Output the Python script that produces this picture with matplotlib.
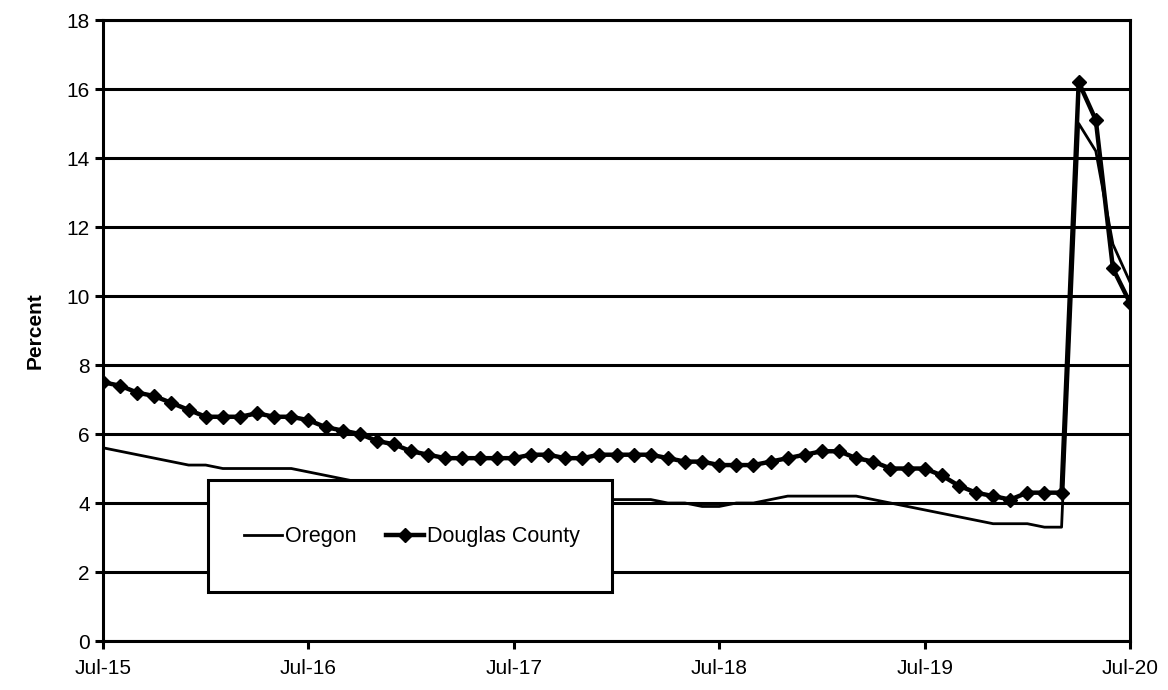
import numpy as np
import matplotlib.pyplot as plt
from matplotlib.patches import Rectangle

plt.rcParams['font.family'] = ['Liberation Sans', 'DejaVu Sans']

# monthly unemployment rate, Jul-15 .. Jul-20
oregon = [5.6, 5.5, 5.4, 5.3, 5.2, 5.1, 5.1, 5.0, 5.0, 5.0, 5.0, 5.0,
          4.9, 4.8, 4.7, 4.6, 4.5, 4.4, 4.3, 4.2, 4.2, 4.1, 4.1, 4.1,
          4.1, 4.1, 4.1, 4.1, 4.1, 4.1, 4.1, 4.1, 4.1, 4.0, 4.0, 3.9,
          3.9, 4.0, 4.0, 4.1, 4.2, 4.2, 4.2, 4.2, 4.2, 4.1, 4.0, 3.9,
          3.8, 3.7, 3.6, 3.5, 3.4, 3.4, 3.4, 3.3, 3.3, 15.0, 14.2, 11.5,
          10.4]
douglas = [7.5, 7.4, 7.2, 7.1, 6.9, 6.7, 6.5, 6.5, 6.5, 6.6, 6.5, 6.5,
           6.4, 6.2, 6.1, 6.0, 5.8, 5.7, 5.5, 5.4, 5.3, 5.3, 5.3, 5.3,
           5.3, 5.4, 5.4, 5.3, 5.3, 5.4, 5.4, 5.4, 5.4, 5.3, 5.2, 5.2,
           5.1, 5.1, 5.1, 5.2, 5.3, 5.4, 5.5, 5.5, 5.3, 5.2, 5.0, 5.0,
           5.0, 4.8, 4.5, 4.3, 4.2, 4.1, 4.3, 4.3, 4.3, 16.2, 15.1, 10.8,
           9.8]
tick_labels = ['Jul-15', 'Jul-16', 'Jul-17', 'Jul-18', 'Jul-19', 'Jul-20']

months = np.arange(len(douglas))

fig = plt.figure(figsize=(11.68, 6.9), dpi=100)
ax = fig.add_axes([0.0882, 0.071, 0.8793, 0.9])

ax.plot(months, oregon, color='black', lw=2.0, label='Oregon', zorder=3)
ax.plot(months, douglas, color='black', lw=3.2, marker='D', ms=7.5,
        label='Douglas County', zorder=4)

ax.set_xlim(0, 60)
ax.set_ylim(0, 18)
ax.set_xticks(np.arange(0, 61, 12))
ax.set_xticklabels(tick_labels)
ax.set_yticks(np.arange(0, 19, 2))
ax.grid(axis='y', color='black', lw=2.2)
ax.set_axisbelow(True)
ax.tick_params(labelsize=15, width=2.2, length=6, direction='out')
ax.tick_params(axis='x', pad=7)
for s in ax.spines.values():
    s.set_linewidth(2.2)
ax.set_ylabel('Percent', fontsize=15, fontweight='bold', labelpad=16)

# legend box, opaque, sits over the lines
box = Rectangle((0.1022, 0.0789), 0.3934, 0.1804, transform=ax.transAxes,
                facecolor='white', edgecolor='black', lw=2.2, zorder=5)
ax.add_patch(box)
leg = ax.legend(loc='center', bbox_to_anchor=(0.301, 0.1675), ncol=2,
                fontsize=15.5, frameon=False, borderpad=0, borderaxespad=0,
                handlelength=1.77, handletextpad=0.15, columnspacing=1.35)
leg.set_zorder(6)

plt.savefig('out.png', dpi=100)
